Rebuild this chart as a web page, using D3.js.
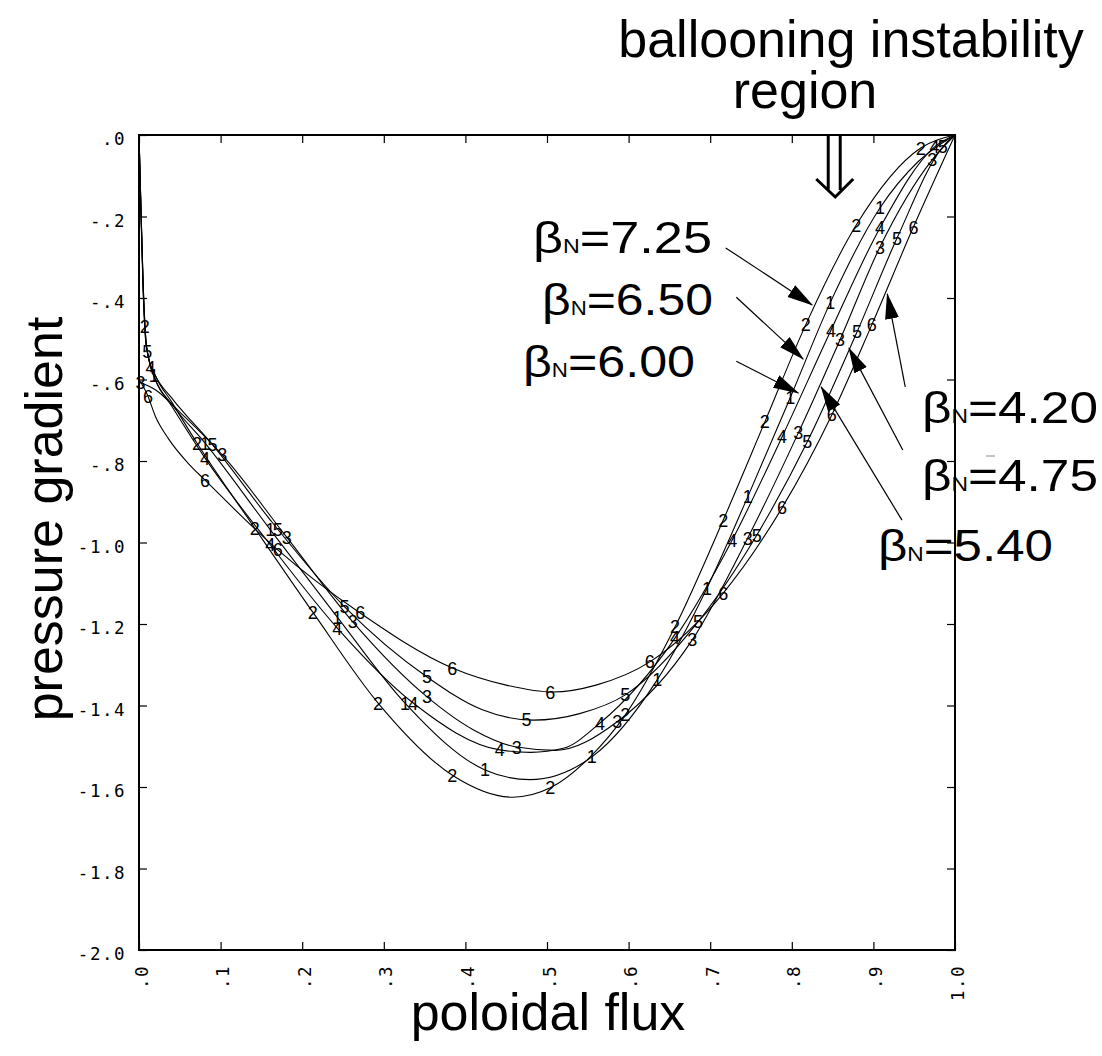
<!DOCTYPE html>
<html>
<head>
<meta charset="utf-8">
<script src="https://cdnjs.cloudflare.com/ajax/libs/d3/7.8.5/d3.min.js"></script>
<style>
body { margin: 0; background: #fff; }
</style>
</head>
<body>
<script>

var width = 1102,
    height = 1056;

// curves: [poloidal flux, pressure gradient]
var curve1 = [[0,0],[0.002,-0.15],[0.005,-0.36],[0.008,-0.49],[0.012,-0.55],[0.02,-0.6],[0.04,-0.66],[0.081,-0.756],[0.161,-0.969],[0.243,-1.183],[0.326,-1.394],[0.424,-1.558],[0.479,-1.582],[0.555,-1.526],[0.635,-1.337],[0.696,-1.112],[0.746,-0.888],[0.798,-0.645],[0.847,-0.412],[0.908,-0.179],[0.955,-0.065],[1,0]];
var curve2 = [[0,0],[0.002,-0.16],[0.005,-0.38],[0.008,-0.5],[0.011,-0.54],[0.02,-0.59],[0.04,-0.655],[0.071,-0.756],[0.142,-0.965],[0.213,-1.171],[0.293,-1.394],[0.384,-1.571],[0.458,-1.625],[0.504,-1.602],[0.553,-1.526],[0.596,-1.423],[0.657,-1.207],[0.716,-0.945],[0.767,-0.704],[0.817,-0.466],[0.879,-0.221],[0.958,-0.032],[1,0]];
var curve3 = [[0,-0.606],[0.02,-0.625],[0.05,-0.68],[0.102,-0.785],[0.181,-0.987],[0.262,-1.195],[0.353,-1.379],[0.41,-1.46],[0.463,-1.502],[0.51,-1.51],[0.586,-1.44],[0.678,-1.239],[0.746,-0.989],[0.808,-0.731],[0.859,-0.503],[0.908,-0.275],[0.972,-0.061],[1,0]];
var curve4 = [[0,0],[0.002,-0.15],[0.005,-0.36],[0.008,-0.49],[0.012,-0.55],[0.02,-0.6],[0.04,-0.665],[0.081,-0.793],[0.161,-1.006],[0.243,-1.21],[0.336,-1.394],[0.442,-1.509],[0.48,-1.515],[0.52,-1.505],[0.565,-1.443],[0.657,-1.234],[0.727,-0.994],[0.788,-0.741],[0.848,-0.479],[0.908,-0.228],[0.975,-0.029],[1,0]];
var curve5 = [[0,0],[0.002,-0.15],[0.005,-0.37],[0.008,-0.5],[0.012,-0.55],[0.02,-0.59],[0.04,-0.645],[0.09,-0.76],[0.161,-0.945],[0.252,-1.158],[0.353,-1.33],[0.42,-1.41],[0.483,-1.436],[0.54,-1.42],[0.596,-1.374],[0.685,-1.195],[0.757,-0.982],[0.819,-0.753],[0.88,-0.483],[0.929,-0.253],[0.985,-0.029],[1,0]];
var curve6 = [[0,-0.6],[0.01,-0.636],[0.02,-0.69],[0.036,-0.745],[0.06,-0.805],[0.081,-0.847],[0.17,-1.018],[0.271,-1.173],[0.384,-1.308],[0.45,-1.35],[0.507,-1.367],[0.56,-1.35],[0.626,-1.293],[0.716,-1.124],[0.788,-0.915],[0.849,-0.687],[0.898,-0.466],[0.949,-0.226],[1,0]];

var curves = [curve1, curve2, curve3, curve4, curve5, curve6];
var curveNames = ["1", "2", "3", "4", "5", "6"];

// flux values where each curve carries its number
var labels1 = [0.018, 0.081, 0.161, 0.243, 0.326, 0.424, 0.555, 0.635, 0.696, 0.746, 0.798, 0.847, 0.908];
var labels2 = [0.007, 0.071, 0.142, 0.213, 0.293, 0.384, 0.504, 0.596, 0.657, 0.716, 0.767, 0.817, 0.879, 0.958];
var labels3 = [0.002, 0.102, 0.181, 0.262, 0.353, 0.463, 0.586, 0.678, 0.746, 0.808, 0.859, 0.908, 0.972];
var labels4 = [0.014, 0.081, 0.161, 0.243, 0.336, 0.442, 0.565, 0.657, 0.727, 0.788, 0.848, 0.908, 0.975];
var labels5 = [0.010, 0.09, 0.17, 0.252, 0.353, 0.475, 0.596, 0.685, 0.757, 0.819, 0.88, 0.929, 0.985];
var labels6 = [0.011, 0.081, 0.17, 0.271, 0.384, 0.504, 0.626, 0.716, 0.788, 0.849, 0.898, 0.949];
var curveLabels = [labels1, labels2, labels3, labels4, labels5, labels6];

var xTicks = [0, 0.1, 0.2, 0.3, 0.4, 0.5, 0.6, 0.7, 0.8, 0.9, 1.0];
var xTickLabels = [".0", ".1", ".2", ".3", ".4", ".5", ".6", ".7", ".8", ".9", "1.0"];
var yTicks = [0, -0.2, -0.4, -0.6, -0.8, -1.0, -1.2, -1.4, -1.6, -1.8, -2.0];
var yTickLabels = [".0", "-.2", "-.4", "-.6", "-.8", "-1.0", "-1.2", "-1.4", "-1.6", "-1.8", "-2.0"];

// beta_N annotations, arrow tips and tails in data units
var betaValues = ["7.25", "6.50", "6.00", "4.20", "4.75", "5.40"];
var arrowTips = [[0.825,-0.417],[0.814,-0.550],[0.808,-0.633],[0.917,-0.390],[0.870,-0.523],[0.836,-0.618]];
var arrowTails = [[0.719,-0.277],[0.732,-0.398],[0.732,-0.555],[0.939,-0.618],[0.936,-0.773],[0.935,-0.945]];
var betaBox = [[533,253,179],[542,315,171],[523,377,172],[922,423,176],[922,491,176],[878,561,175]]; // left, baseline, width (px)
var instabilityX = 0.852;

var x = d3.scaleLinear().domain([0, 1]).range([139, 955]);
var y = d3.scaleLinear().domain([0, -2]).range([135, 950]);

var svg = d3.select("body").append("svg")
    .attr("width", width)
    .attr("height", height)
    .style("display", "block");

svg.append("defs").append("marker")
    .attr("id", "head")
    .attr("markerUnits", "userSpaceOnUse")
    .attr("viewBox", "0 -8 26 16")
    .attr("refX", 25).attr("refY", 0)
    .attr("markerWidth", 26).attr("markerHeight", 16)
    .attr("orient", "auto")
  .append("path")
    .attr("d", "M0,-7L26,0L0,7Z")
    .attr("fill", "#000");

var monoFont = "'DejaVu Sans Mono', monospace";
var sansFont = "'Liberation Sans', Arial, Helvetica, sans-serif";

// axes, ticks pointing inward on all four sides
var axisB = svg.append("g").attr("transform", "translate(0,950)")
    .call(d3.axisBottom(x).tickValues(xTicks).tickFormat(function(d, i) { return xTickLabels[i]; }).tickSizeInner(-8).tickSizeOuter(0));
axisB.selectAll("text")
    .attr("transform", "rotate(-90)")
    .attr("x", -15).attr("y", 8).attr("dy", null)
    .style("text-anchor", "end");

var axisL = svg.append("g").attr("transform", "translate(139,0)")
    .call(d3.axisLeft(y).tickValues(yTicks).tickFormat(function(d, i) { return yTickLabels[i]; }).tickSizeInner(-8).tickSizeOuter(0).tickPadding(13));
axisL.selectAll("text").attr("dy", "9.5");

svg.append("g").attr("transform", "translate(0,135)")
    .call(d3.axisTop(x).tickValues(xTicks).tickFormat("").tickSizeInner(-8).tickSizeOuter(0));
svg.append("g").attr("transform", "translate(955,0)")
    .call(d3.axisRight(y).tickValues(yTicks).tickFormat("").tickSizeInner(-8).tickSizeOuter(0));

svg.selectAll(".domain").remove();
svg.selectAll(".tick line").attr("stroke", "#000").attr("stroke-width", 1.2);
svg.selectAll(".tick text")
    .attr("font-family", monoFont)
    .attr("font-size", 17.5)
    .attr("letter-spacing", 1.5)
    .attr("fill", "#000");

svg.append("rect")
    .attr("x", x(0)).attr("y", y(0))
    .attr("width", x(1) - x(0)).attr("height", y(-2) - y(0))
    .attr("fill", "none").attr("stroke", "#000").attr("stroke-width", 2);

// curves
var line = d3.line()
    .x(function(d) { return x(d[0]); })
    .y(function(d) { return y(d[1]); })
    .curve(d3.curveMonotoneX);

var paths = svg.append("g").selectAll("path")
    .data(curves)
    .enter().append("path")
    .attr("d", line)
    .attr("fill", "none")
    .attr("stroke", "#000")
    .attr("stroke-width", 1.1);

function pointAtX(node, px) {
  var lo = 0, hi = node.getTotalLength();
  for (var i = 0; i < 30; i++) {
    var mid = (lo + hi) / 2;
    if (node.getPointAtLength(mid).x < px) lo = mid; else hi = mid;
  }
  return node.getPointAtLength(hi);
}

var numG = svg.append("g")
    .attr("font-family", sansFont)
    .attr("font-size", 18)
    .attr("text-anchor", "middle");

paths.each(function(c, i) {
  var node = this;
  curveLabels[i].forEach(function(fx) {
    var p = pointAtX(node, x(fx));
    numG.append("text")
        .attr("x", p.x).attr("y", p.y + 6.5)
        .text(curveNames[i]);
  });
});

// beta_N arrows and labels
svg.append("g").selectAll("line")
    .data(betaValues)
    .enter().append("line")
    .attr("x1", function(d, i) { return x(arrowTails[i][0]); })
    .attr("y1", function(d, i) { return y(arrowTails[i][1]); })
    .attr("x2", function(d, i) { return x(arrowTips[i][0]); })
    .attr("y2", function(d, i) { return y(arrowTips[i][1]); })
    .attr("stroke", "#000")
    .attr("stroke-width", 1.2)
    .attr("marker-end", "url(#head)");

var bt = svg.append("g").selectAll("text")
    .data(betaValues)
    .enter().append("text")
    .attr("x", function(d, i) { return betaBox[i][0]; })
    .attr("y", function(d, i) { return betaBox[i][1]; })
    .attr("textLength", function(d, i) { return betaBox[i][2]; })
    .attr("lengthAdjust", "spacingAndGlyphs")
    .attr("font-family", sansFont)
    .attr("font-size", 45)
    .attr("fill", "#000");
bt.append("tspan").text("β");
bt.append("tspan").attr("font-size", 20).text("N");
bt.append("tspan").text(function(d) { return "=" + d; });

svg.append("line")
    .attr("x1", 986).attr("x2", 995).attr("y1", 456).attr("y2", 456)
    .attr("stroke", "#888").attr("stroke-width", 1);

// hollow arrow marking the instability region
var ax = x(instabilityX);
svg.append("path")
    .attr("d", "M" + (ax - 6) + ",135V190" +
               "M" + (ax + 6) + ",135V190" +
               "M" + (ax - 18) + ",179L" + (ax + 1) + ",197L" + (ax + 19) + ",179")
    .attr("fill", "none")
    .attr("stroke", "#000")
    .attr("stroke-width", 3);

var big = svg.append("g")
    .attr("font-family", sansFont)
    .attr("font-size", 52)
    .attr("fill", "#000")
    .attr("text-anchor", "middle");

big.append("text").attr("x", 851).attr("y", 57).text("ballooning instability");
big.append("text").attr("x", 805).attr("y", 108).text("region");
big.append("text").attr("x", 548).attr("y", 1030).text("poloidal flux");
big.append("text")
    .attr("transform", "translate(62,519) rotate(-90)")
    .text("pressure gradient");

</script>
</body>
</html>
